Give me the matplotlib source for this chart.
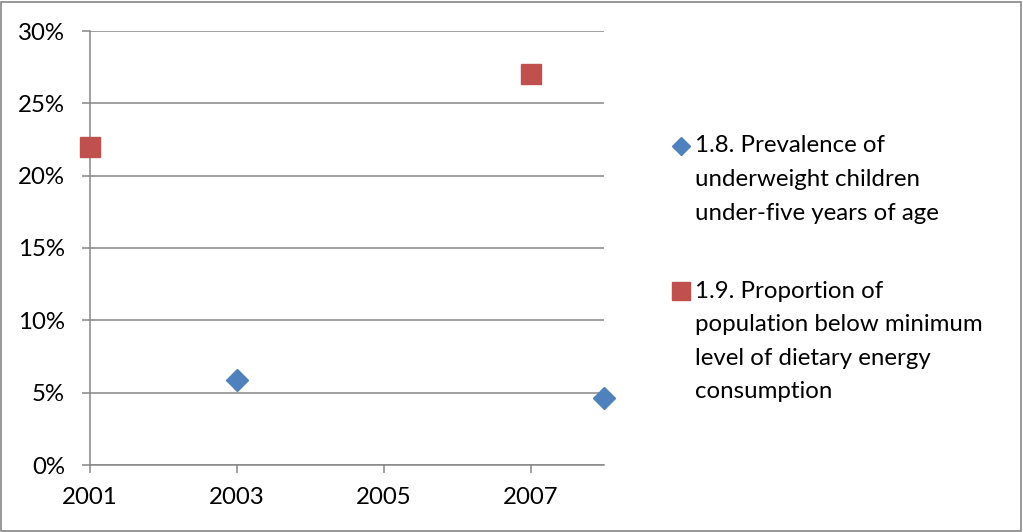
import matplotlib.pyplot as plt
from matplotlib.patches import Rectangle
from matplotlib.ticker import FuncFormatter

# --- data ---
anos_18 = [2003, 2008]
valores_18 = [5.9, 4.6]      # % underweight children
anos_19 = [2001, 2007]
valores_19 = [22.0, 27.0]    # % below minimum dietary energy
rotulo_18 = ["1.8. Prevalence of", "underweight children", "under-five years of age"]
rotulo_19 = ["1.9. Proportion of", "population below minimum",
             "level of dietary energy", "consumption"]
xticks = [2001, 2003, 2005, 2007]
yticks = [0, 5, 10, 15, 20, 25, 30]

AZUL = "#4F81BD"
VERMELHO = "#C0504D"
CINZA = "#868686"
FONTE = "Lato"
TAM = 17.3

plt.rcParams['font.family'] = [FONTE, 'DejaVu Sans']

fig = plt.figure(figsize=(10.23, 5.32), dpi=100)
ax = fig.add_axes([90/1023, 67/532, 514/1023, 434/532])

ax.plot(anos_18, valores_18, 'D', color=AZUL, markersize=11.2, clip_on=False, zorder=3)
ax.plot(anos_19, valores_19, 's', color=VERMELHO, markersize=14.6, clip_on=False, zorder=3)

ax.set_xlim(2001, 2008)
ax.set_ylim(0, 30)
ax.set_xticks(xticks)
ax.set_yticks(yticks)
ax.yaxis.set_major_formatter(FuncFormatter(lambda v, p: f"{v:.0f}%"))
ax.grid(axis='y', color=CINZA, lw=1.1)
ax.set_axisbelow(True)

for lado in ['top', 'right']:
    ax.spines[lado].set_visible(False)
for lado in ['left', 'bottom']:
    ax.spines[lado].set_color(CINZA)
    ax.spines[lado].set_linewidth(1.1)

ax.tick_params(axis='both', colors=CINZA, labelcolor='black', labelsize=TAM,
               length=6, width=1.1, direction='out')
ax.tick_params(axis='y', pad=12)
ax.tick_params(axis='x', pad=10)

# legenda manual (marcador alinhado com a primeira linha, como no Excel)
x_txt = 695 / 1023
x_mk = 681 / 1023
passo = 33.6 / 532
for linhas, y0, mk, cor, ms in [(rotulo_18, 146, 'D', AZUL, 9.0),
                                (rotulo_19, 291, 's', VERMELHO, 12.7)]:
    yf = 1 - y0 / 532
    fig.lines.append(plt.Line2D([x_mk], [yf], marker=mk, color=cor, markersize=ms,
                                linestyle='none', transform=fig.transFigure))
    for i, txt in enumerate(linhas):
        fig.text(x_txt, yf - i * passo, txt, fontsize=TAM, va='center', ha='left')

# moldura externa
fig.patches.append(Rectangle((0.5/1023, 1.5/532), 1020/1023, 529/532, fill=False,
                             edgecolor=CINZA, lw=1.2, transform=fig.transFigure))

fig.savefig("out.png", dpi=100)
